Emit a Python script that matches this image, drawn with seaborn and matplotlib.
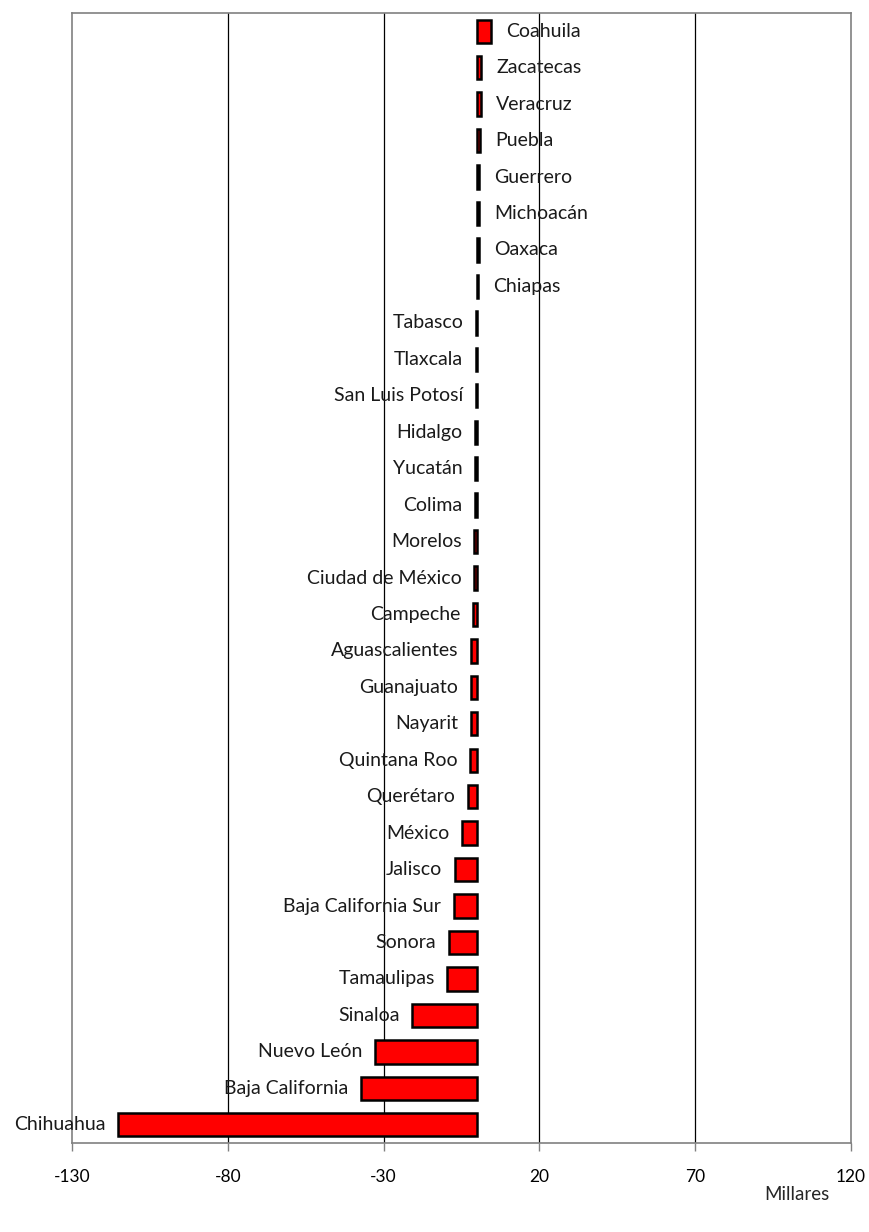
import matplotlib
matplotlib.use("Agg")
import matplotlib.pyplot as plt
import seaborn as sns
import pandas as pd

states = ["Coahuila", "Zacatecas", "Veracruz", "Puebla", "Guerrero", "Michoacán",
          "Oaxaca", "Chiapas", "Tabasco", "Tlaxcala", "San Luis Potosí", "Hidalgo",
          "Yucatán", "Colima", "Morelos", "Ciudad de México", "Campeche",
          "Aguascalientes", "Guanajuato", "Nayarit", "Quintana Roo", "Querétaro",
          "México", "Jalisco", "Baja California Sur", "Sonora", "Tamaulipas",
          "Sinaloa", "Nuevo León", "Baja California", "Chihuahua"]
values = [4.4, 1.3, 1.1, 1.0, 0.7, 0.6,
          0.5, 0.3, -0.3, -0.4, -0.5, -0.6,
          -0.7, -0.8, -0.85, -0.95, -1.3,
          -1.9, -2.0, -2.1, -2.3, -3.0,
          -4.7, -7.2, -7.5, -9.1, -9.6,
          -20.9, -32.7, -37.2, -115.3]
xticks = [-130, -80, -30, 20, 70, 120]
unit_label = "Millares"

df = pd.DataFrame({"estado": states, "valor": values})

sns.set_theme(style="white")
plt.rcParams["font.family"] = ["Lato", "DejaVu Sans"]

fig = plt.figure(figsize=(8.69, 12.32), dpi=100)
ax = fig.add_axes([72/869, 1 - 1143/1232, (851-72)/869, (1143-13)/1232])

sns.barplot(data=df, x="valor", y="estado", orient="h", color="#FF0000",
            edgecolor="black", linewidth=1.8, width=0.64, saturation=1,
            ax=ax, zorder=3)

ax.set_xlim(-130, 120)
ax.set_ylim(len(states) - 0.5, -0.5)
ax.set_xticks(xticks)
ax.set_xticklabels([str(t) for t in xticks], fontsize=12.5)
ax.set_yticks([])
ax.set_xlabel("")
ax.set_ylabel("")

for t in xticks[1:-1]:
    ax.axvline(t, color="black", linewidth=0.9, zorder=1)

for s in ax.spines.values():
    s.set_color("#808080")
    s.set_linewidth(1.2)
    s.set_visible(True)

ax.tick_params(axis="x", direction="out", length=6, width=1, color="#808080",
               pad=13, labelcolor="black", bottom=True)

for i, (name, v) in enumerate(zip(states, values)):
    if v >= 0:
        ax.annotate(name, xy=(v, i), xytext=(11, 0), textcoords="offset points",
                    ha="left", va="center", fontsize=14, color="#1a1a1a", zorder=4)
    else:
        ax.annotate(name, xy=(v, i), xytext=(-9, 0), textcoords="offset points",
                    ha="right", va="center", fontsize=14, color="#1a1a1a", zorder=4)

fig.text(797/869, 1 - 1194/1232, unit_label, ha="center", va="center", fontsize=13.5)

fig.savefig("out.png", dpi=100)
